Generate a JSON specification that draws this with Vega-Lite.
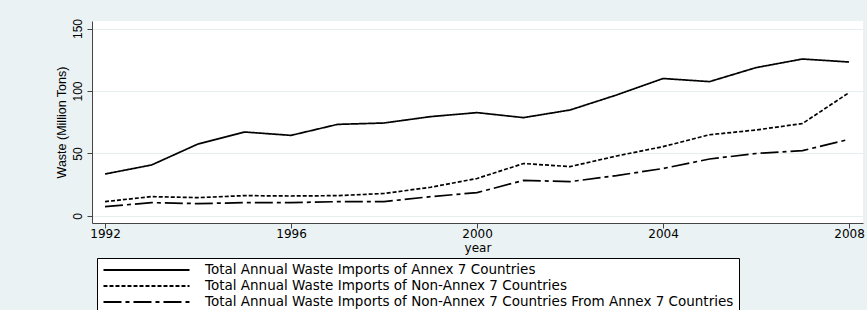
{
  "$schema": "https://vega.github.io/schema/vega-lite/v6.json",
  "autosize": "none",
  "padding": {"left": 92, "top": 21, "right": 4, "bottom": 87},
  "width": 771,
  "height": 202,
  "background": "#eaf2f3",
  "config": {
    "view": {"stroke": null, "fill": "white"},
    "axis": {"labelColor": "black", "titleColor": "black", "titleFontWeight": "normal", "domainColor": "#444444", "tickColor": "#444444"}
  },
  "data": {
    "values": [
      {"year": 1992, "series": "Total Annual Waste Imports of Annex 7 Countries", "value": 33.6},
      {"year": 1993, "series": "Total Annual Waste Imports of Annex 7 Countries", "value": 40.8},
      {"year": 1994, "series": "Total Annual Waste Imports of Annex 7 Countries", "value": 57.6},
      {"year": 1995, "series": "Total Annual Waste Imports of Annex 7 Countries", "value": 67.2},
      {"year": 1996, "series": "Total Annual Waste Imports of Annex 7 Countries", "value": 64.5},
      {"year": 1997, "series": "Total Annual Waste Imports of Annex 7 Countries", "value": 73.3},
      {"year": 1998, "series": "Total Annual Waste Imports of Annex 7 Countries", "value": 74.4},
      {"year": 1999, "series": "Total Annual Waste Imports of Annex 7 Countries", "value": 79.5},
      {"year": 2000, "series": "Total Annual Waste Imports of Annex 7 Countries", "value": 82.7},
      {"year": 2001, "series": "Total Annual Waste Imports of Annex 7 Countries", "value": 78.7},
      {"year": 2002, "series": "Total Annual Waste Imports of Annex 7 Countries", "value": 84.8},
      {"year": 2003, "series": "Total Annual Waste Imports of Annex 7 Countries", "value": 96.8},
      {"year": 2004, "series": "Total Annual Waste Imports of Annex 7 Countries", "value": 110},
      {"year": 2005, "series": "Total Annual Waste Imports of Annex 7 Countries", "value": 107.5},
      {"year": 2006, "series": "Total Annual Waste Imports of Annex 7 Countries", "value": 118.7},
      {"year": 2007, "series": "Total Annual Waste Imports of Annex 7 Countries", "value": 125.6},
      {"year": 2008, "series": "Total Annual Waste Imports of Annex 7 Countries", "value": 123.2},
      {"year": 1992, "series": "Total Annual Waste Imports of Non-Annex 7 Countries", "value": 11.5},
      {"year": 1993, "series": "Total Annual Waste Imports of Non-Annex 7 Countries", "value": 15.5},
      {"year": 1994, "series": "Total Annual Waste Imports of Non-Annex 7 Countries", "value": 14.7},
      {"year": 1995, "series": "Total Annual Waste Imports of Non-Annex 7 Countries", "value": 16.3},
      {"year": 1996, "series": "Total Annual Waste Imports of Non-Annex 7 Countries", "value": 16},
      {"year": 1997, "series": "Total Annual Waste Imports of Non-Annex 7 Countries", "value": 16.3},
      {"year": 1998, "series": "Total Annual Waste Imports of Non-Annex 7 Countries", "value": 18},
      {"year": 1999, "series": "Total Annual Waste Imports of Non-Annex 7 Countries", "value": 23},
      {"year": 2000, "series": "Total Annual Waste Imports of Non-Annex 7 Countries", "value": 30},
      {"year": 2001, "series": "Total Annual Waste Imports of Non-Annex 7 Countries", "value": 42},
      {"year": 2002, "series": "Total Annual Waste Imports of Non-Annex 7 Countries", "value": 39.5},
      {"year": 2003, "series": "Total Annual Waste Imports of Non-Annex 7 Countries", "value": 48},
      {"year": 2004, "series": "Total Annual Waste Imports of Non-Annex 7 Countries", "value": 55.5},
      {"year": 2005, "series": "Total Annual Waste Imports of Non-Annex 7 Countries", "value": 65},
      {"year": 2006, "series": "Total Annual Waste Imports of Non-Annex 7 Countries", "value": 68.8},
      {"year": 2007, "series": "Total Annual Waste Imports of Non-Annex 7 Countries", "value": 74},
      {"year": 2008, "series": "Total Annual Waste Imports of Non-Annex 7 Countries", "value": 98.7},
      {"year": 1992, "series": "Total Annual Waste Imports of Non-Annex 7 Countries From Annex 7 Countries", "value": 7.5},
      {"year": 1993, "series": "Total Annual Waste Imports of Non-Annex 7 Countries From Annex 7 Countries", "value": 10.7},
      {"year": 1994, "series": "Total Annual Waste Imports of Non-Annex 7 Countries From Annex 7 Countries", "value": 9.9},
      {"year": 1995, "series": "Total Annual Waste Imports of Non-Annex 7 Countries From Annex 7 Countries", "value": 10.7},
      {"year": 1996, "series": "Total Annual Waste Imports of Non-Annex 7 Countries From Annex 7 Countries", "value": 10.7},
      {"year": 1997, "series": "Total Annual Waste Imports of Non-Annex 7 Countries From Annex 7 Countries", "value": 11.5},
      {"year": 1998, "series": "Total Annual Waste Imports of Non-Annex 7 Countries From Annex 7 Countries", "value": 11.5},
      {"year": 1999, "series": "Total Annual Waste Imports of Non-Annex 7 Countries From Annex 7 Countries", "value": 15.5},
      {"year": 2000, "series": "Total Annual Waste Imports of Non-Annex 7 Countries From Annex 7 Countries", "value": 18.7},
      {"year": 2001, "series": "Total Annual Waste Imports of Non-Annex 7 Countries From Annex 7 Countries", "value": 28.5},
      {"year": 2002, "series": "Total Annual Waste Imports of Non-Annex 7 Countries From Annex 7 Countries", "value": 27.5},
      {"year": 2003, "series": "Total Annual Waste Imports of Non-Annex 7 Countries From Annex 7 Countries", "value": 32.3},
      {"year": 2004, "series": "Total Annual Waste Imports of Non-Annex 7 Countries From Annex 7 Countries", "value": 38},
      {"year": 2005, "series": "Total Annual Waste Imports of Non-Annex 7 Countries From Annex 7 Countries", "value": 45.6},
      {"year": 2006, "series": "Total Annual Waste Imports of Non-Annex 7 Countries From Annex 7 Countries", "value": 50},
      {"year": 2007, "series": "Total Annual Waste Imports of Non-Annex 7 Countries From Annex 7 Countries", "value": 52.3},
      {"year": 2008, "series": "Total Annual Waste Imports of Non-Annex 7 Countries From Annex 7 Countries", "value": 61.3}
    ]
  },
  "mark": {"type": "line", "color": "black", "strokeWidth": 1.7},
  "encoding": {
    "x": {
      "field": "year", "type": "quantitative",
      "scale": {"domain": [1991.72, 2008.3], "nice": false, "zero": false},
      "axis": {"values": [1992, 1996, 2000, 2004, 2008], "format": "d", "grid": false, "tickSize": 5, "labelPadding": 0,
        "labelFont": "DejaVu Sans", "labelFontSize": 12, "title": "year", "titleFont": "DejaVu Sans", "titleFontSize": 12, "titlePadding": 3, "labelFlush": false}
    },
    "y": {
      "field": "value", "type": "quantitative",
      "scale": {"domain": [-5.6, 156], "nice": false, "zero": false},
      "axis": {"values": [0, 50, 100, 150], "grid": true, "gridColor": "#e6eef0", "gridWidth": 1.2, "tickSize": 5, "labelAngle": -90, "labelAlign": "center", "labelBaseline": "bottom", "labelPadding": 3,
        "labelFont": "Liberation Sans", "labelFontSize": 12, "title": "Waste (Million Tons)", "titleFont": "Liberation Sans Narrow, Liberation Sans", "titleFontSize": 12.5, "titlePadding": 3}
    },
    "strokeDash": {
      "field": "series", "type": "nominal",
      "scale": {
        "domain": ["Total Annual Waste Imports of Annex 7 Countries", "Total Annual Waste Imports of Non-Annex 7 Countries", "Total Annual Waste Imports of Non-Annex 7 Countries From Annex 7 Countries"],
        "range": [[1, 0], [4, 2], [18, 4, 4, 4]]
      },
      "legend": {
        "orient": "none", "legendX": 5, "legendY": 237, "title": null, "direction": "vertical",
        "fillColor": "white", "strokeColor": "black", "padding": 5,
        "symbolType": "stroke", "symbolSize": 7400, "symbolStrokeWidth": 2, "symbolStrokeColor": "black",
        "clipHeight": 14, "rowPadding": 2, "labelOffset": 14,
        "labelFont": "DejaVu Sans", "labelFontSize": 13.5, "labelColor": "black", "labelLimit": 800
      }
    }
  }
}
